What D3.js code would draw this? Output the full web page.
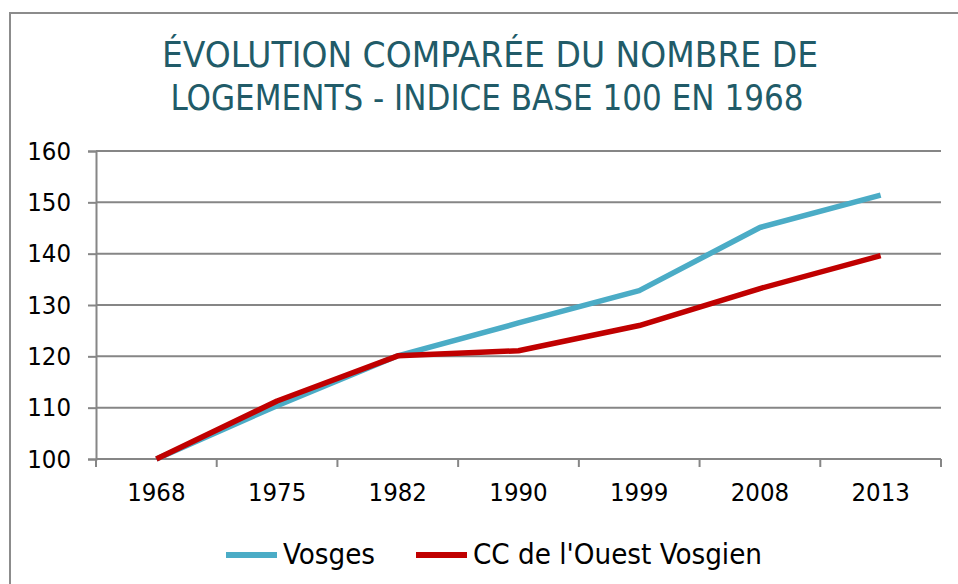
<!DOCTYPE html>
<html>
<head>
<meta charset="utf-8">
<script src="https://cdn.jsdelivr.net/npm/d3@7"></script>
<style>
  html, body { margin: 0; padding: 0; background: #fff; }
  svg text { font-family: "DejaVu Sans Condensed", "DejaVu Sans", sans-serif; }
</style>
</head>
<body>
<svg id="chart" width="958" height="584"></svg>
<script>
// Housing stock index, base 100 in 1968
const years = ["1968", "1975", "1982", "1990", "1999", "2008", "2013"];
const vosges = [100, 110.4, 120.1, 126.5, 132.8, 145.1, 151.4];
const ccOuestVosgien = [100, 111.3, 120.1, 121.1, 126.0, 133.2, 139.6];
const yTicks = [100, 110, 120, 130, 140, 150, 160];
const titleLines = ["ÉVOLUTION COMPARÉE DU NOMBRE DE", "LOGEMENTS - INDICE BASE 100 EN 1968"];
const seriesNames = ["Vosges", "CC de l'Ouest Vosgien"];
const seriesColors = ["#4bacc6", "#c00000"];

const svg = d3.select("#chart");
const plot = { left: 96, right: 941, top: 151, bottom: 459 };

// outer frame (open on the right and bottom)
svg.append("path")
  .attr("d", "M10,584 L10,13 L958,13")
  .attr("fill", "none")
  .attr("stroke", "#8c8c8c")
  .attr("stroke-width", 2);

// title
const titleG = svg.append("g").attr("fill", "#215b68");
const titleSpec = [{ x: 490, y: 67, len: 656 }, { x: 487, y: 110, len: 633 }];
titleLines.forEach((t, i) => {
  titleG.append("text")
    .attr("x", titleSpec[i].x)
    .attr("y", titleSpec[i].y)
    .attr("text-anchor", "middle")
    .attr("font-size", 36)
    .attr("textLength", titleSpec[i].len)
    .attr("lengthAdjust", "spacingAndGlyphs")
    .text(t);
});

const x = d3.scaleBand().domain(years).range([plot.left, plot.right]).padding(0);
const y = d3.scaleLinear().domain([100, 160]).range([plot.bottom, plot.top]);

// horizontal gridlines + y axis
const yAxis = d3.axisLeft(y).tickValues(yTicks).tickSize(8).tickPadding(17).tickFormat(d3.format("d"));
const yg = svg.append("g").attr("transform", `translate(${plot.left},0)`).call(yAxis);
yg.select(".domain").attr("stroke", "#868686").attr("stroke-width", 2);
yg.selectAll(".tick line").attr("stroke", "#868686").attr("stroke-width", 2);
yg.selectAll(".tick text").attr("font-size", 25.5).attr("fill", "#000");

svg.append("g").selectAll("line.grid")
  .data(yTicks.filter(v => v > 100))
  .join("line")
  .attr("x1", plot.left).attr("x2", plot.right)
  .attr("y1", d => y(d)).attr("y2", d => y(d))
  .attr("stroke", "#868686").attr("stroke-width", 2);

// x axis: ticks at band boundaries, labels centred in bands
const xg = svg.append("g").attr("transform", `translate(0,${plot.bottom})`);
xg.append("line")
  .attr("x1", plot.left).attr("x2", plot.right)
  .attr("stroke", "#868686").attr("stroke-width", 2);
const boundaries = years.map(d => x(d)).concat([x.range()[1]]);
xg.selectAll("line.tick")
  .data(boundaries)
  .join("line")
  .attr("class", "tick")
  .attr("x1", d => d).attr("x2", d => d)
  .attr("y1", 0).attr("y2", 8)
  .attr("stroke", "#868686").attr("stroke-width", 2);
xg.selectAll("text")
  .data(years)
  .join("text")
  .attr("x", d => x(d) + x.bandwidth() / 2)
  .attr("y", 42)
  .attr("text-anchor", "middle")
  .attr("font-size", 25.5)
  .attr("fill", "#000")
  .text(d => d);

// lines
const line = d3.line()
  .x((d, i) => x(years[i]) + x.bandwidth() / 2)
  .y(d => y(d));

[vosges, ccOuestVosgien].forEach((vals, i) => {
  svg.append("path")
    .datum(vals)
    .attr("fill", "none")
    .attr("stroke", seriesColors[i])
    .attr("stroke-width", 5.5)
    .attr("stroke-linejoin", "round")
    .attr("d", line);
});

// legend
const legendItems = [{ x: 226, tx: 283, len: 92 }, { x: 416, tx: 473, len: 289 }];
const lg = svg.append("g");
seriesNames.forEach((name, i) => {
  lg.append("line")
    .attr("x1", legendItems[i].x).attr("x2", legendItems[i].x + 51)
    .attr("y1", 555).attr("y2", 555)
    .attr("stroke", seriesColors[i]).attr("stroke-width", 6);
  lg.append("text")
    .attr("x", legendItems[i].tx).attr("y", 564)
    .attr("font-size", 28)
    .attr("textLength", legendItems[i].len)
    .attr("lengthAdjust", "spacingAndGlyphs")
    .attr("fill", "#000")
    .text(name);
});
</script>
</body>
</html>
